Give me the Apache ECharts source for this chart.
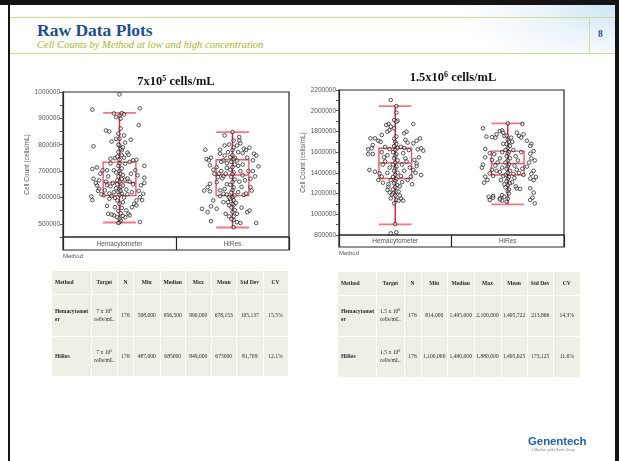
<!DOCTYPE html>
<html>
<head>
<meta charset="utf-8">
<title>Raw Data Plots</title>
<script src="https://cdn.jsdelivr.net/npm/echarts@6/dist/echarts.min.js"></script>
<style>
  html, body { margin: 0; padding: 0; background: #fff; }
  body { width: 619px; height: 461px; position: relative; overflow: hidden; font-family: "Liberation Serif", serif; }
  .blk { position: absolute; background: #141414; }
  .header { position: absolute; left: 10px; top: 5px; width: 605px; height: 48px;
    background: radial-gradient(ellipse 160px 70px at 100% 0%, #cde4f6 0%, rgba(220,236,248,0.6) 45%, rgba(255,255,255,0) 100%), #fff; }
  .hline { position: absolute; background: #d3dc8e; }
  .title { position: absolute; left: 37px; top: 20px; font: bold 17.5px "Liberation Serif", serif; color: #1f4f8d; white-space: nowrap; line-height: 20px; }
  .subtitle { position: absolute; left: 37px; top: 38.5px; font: italic 10.5px "Liberation Serif", serif; color: #a7b42e; white-space: nowrap; line-height: 12px; }
  .pageno { position: absolute; left: 598px; top: 29px; font: bold 9.5px "Liberation Serif", serif; color: #2a5189; }
  #chart { position: absolute; left: 0; top: 0; width: 619px; height: 461px; }
  table.stats { position: absolute; border-collapse: separate; border-spacing: 1px; table-layout: fixed;
    font: 5.6px "Liberation Serif", serif; color: #2a2a2a; }
  table.stats td { background: #eeefe5; text-align: center; vertical-align: middle; padding: 0 1px; line-height: 1.35; }
  table.stats td.first { text-align: left; font-weight: bold; word-break: break-all; padding-left: 3px; }
  table.stats tr.head td { font-weight: bold; }
  table.stats sup { font-size: 4px; vertical-align: 2px; line-height: 0; }
  .logo { position: absolute; left: 528px; top: 435px; font: bold 11.5px "Liberation Sans", Arial, sans-serif; color: #2263a9; letter-spacing: -0.1px; }
  .logo-sub { position: absolute; left: 531px; top: 448px; font: italic 3.6px "Liberation Serif", serif; color: #777; white-space: nowrap; }
</style>
</head>
<body>
<div class="header"></div>
<div class="hline" style="left:10px; top:17px; width:605px; height:1px;"></div>
<div class="hline" style="left:10px; top:53px; width:605px; height:1px;"></div>
<div class="hline" style="left:589px; top:17px; width:1px; height:36px;"></div>
<div class="title">Raw Data Plots</div>
<div class="subtitle">Cell Counts by Method at low and high concentration</div>
<div class="pageno">8</div>
<div class="blk" style="left:0; top:0; width:619px; height:5px;"></div>
<div class="blk" style="left:8px; top:0; width:2px; height:461px;"></div>
<div class="blk" style="left:615px; top:0; width:4px; height:461px;"></div>

<div id="chart"></div>
<div id="tables"></div>
<div class="logo">Genentech</div>
<div class="logo-sub">A Member of the Roche Group</div>

<script>
// ---------- data ----------
const categories = ['Hemacytometer', 'HiRes'];

// [horizontal jitter as a fraction of the category width, cell count]
const lowHema = [
  [0.00, 991000], [-0.24, 933000], [0.18, 938000],
  [-0.05, 919000], [0.02, 920000], [0.00, 910000], [-0.03, 905000], [0.01, 899000], [0.04, 915000],
  [-0.12, 854000], [-0.09, 850000], [0.17, 874000],
  [0.01, 861000], [-0.01, 842000], [0.04, 835000], [0.00, 823000], [-0.03, 822000], [0.10, 819000],
  [-0.07, 812000], [-0.23, 794000],
  [0.05, 808000], [0.00, 797000], [0.02, 779000], [-0.01, 772000], [0.07, 770000], [0.08, 762000],
  [-0.08, 747000], [-0.04, 749000], [0.00, 743000], [0.04, 751000], [-0.08, 729000],
  [0.12, 741000], [0.15, 743000], [0.09, 735000], [0.05, 728000],
  [-0.24, 708000], [-0.20, 714000], [0.22, 720000], [0.22, 675000], [0.22, 655000],
  [-0.15, 703000], [-0.11, 703000], [-0.05, 703000], [-0.17, 690000],
  [-0.23, 671000], [-0.18, 665000], [-0.20, 646000], [-0.18, 633000], [-0.25, 604000], [-0.24, 590000],
  [-0.11, 568000], [-0.11, 646000], [-0.13, 627000], [-0.14, 608000], [-0.09, 595000],
  [0.14, 703000], [0.16, 684000], [0.19, 646000], [0.21, 614000], [0.18, 601000], [0.15, 589000],
  [0.13, 576000], [0.11, 563000], [0.08, 538000], [0.09, 532000], [0.05, 525000], [0.15, 570000],
  [0.00, 506000], [-0.01, 503000], [0.01, 513000], [-0.02, 525000], [-0.05, 532000], [-0.07, 535000],
  [-0.10, 538000], [0.18, 507000], [0.06, 551000], [-0.04, 563000], [0.00, 576000], [0.03, 582000],
  [-0.02, 589000],
  [0.00, 700000], [0.01, 690000], [-0.01, 680000], [0.02, 670000], [0.00, 660000], [-0.02, 650000],
  [0.01, 640000], [0.00, 630000], [-0.01, 620000], [0.02, 615000], [0.00, 610000], [0.01, 625000],
  [-0.03, 635000], [0.03, 645000], [-0.02, 665000], [0.03, 685000], [-0.03, 695000], [0.02, 710000],
  [-0.01, 720000], [0.00, 730000],
  [0.05, 668000], [0.07, 672000], [0.09, 660000], [-0.06, 655000], [-0.08, 642000], [0.06, 630000],
  [-0.05, 620000], [0.07, 612000], [-0.07, 606000], [0.04, 600000], [-0.04, 598000],
  [0.10, 690000], [-0.10, 680000], [0.12, 650000], [-0.12, 660000], [0.11, 620000], [-0.09, 615000],
  [0.02, 560000], [-0.01, 548000], [0.01, 540000], [0.00, 520000], [0.03, 530000],
  [0.02, 760000], [-0.02, 755000], [0.01, 785000], [0.03, 790000], [-0.01, 800000],
  [-0.16, 612000], [-0.19, 625000], [0.17, 625000], [0.20, 590000], [-0.21, 655000]
];

const lowHiRes = [
  [0.00, 848000], [-0.07, 835000], [0.06, 829000], [0.06, 816000],
  [0.01, 816000], [-0.03, 801000], [0.04, 797000], [-0.07, 797000], [-0.11, 781000], [-0.24, 781000],
  [0.05, 772000], [0.09, 768000], [0.13, 751000], [0.10, 785000], [0.15, 789000],
  [-0.04, 772000], [-0.11, 766000], [-0.07, 759000], [-0.02, 753000], [0.02, 751000], [-0.08, 741000],
  [-0.19, 751000], [-0.23, 746000], [-0.21, 741000],
  [0.19, 766000], [0.21, 759000], [0.18, 741000], [0.23, 718000],
  [-0.20, 722000], [-0.17, 705000], [-0.14, 715000], [-0.16, 690000],
  [0.18, 700000], [0.20, 680000], [0.16, 671000],
  [-0.13, 677000], [-0.08, 680000], [-0.14, 658000], [-0.20, 652000], [-0.22, 639000],
  [0.16, 639000], [0.17, 626000],
  [-0.11, 627000], [-0.08, 614000], [-0.05, 611000], [-0.11, 605000],
  [-0.25, 626000], [-0.20, 623000], [-0.27, 557000], [-0.22, 544000], [-0.19, 566000], [-0.14, 557000],
  [-0.17, 589000],
  [0.15, 550000], [0.08, 561000], [0.04, 538000], [0.01, 528000],
  [-0.03, 528000], [-0.06, 538000], [0.04, 506000], [0.01, 487000],
  [0.21, 503000], [-0.19, 510000], [0.07, 503000], [0.13, 544000],
  [-0.08, 582000], [-0.04, 582000], [0.01, 570000],
  [0.00, 760000], [0.01, 745000], [-0.01, 735000], [0.02, 725000], [0.00, 715000], [-0.02, 705000],
  [0.01, 695000], [0.00, 688000], [-0.01, 678000], [0.02, 668000], [0.00, 658000], [-0.02, 648000],
  [0.01, 638000], [0.00, 628000], [-0.01, 618000], [0.02, 608000], [0.00, 600000], [-0.02, 595000],
  [0.01, 590000], [0.00, 575000], [-0.01, 562000], [0.02, 552000], [0.00, 545000], [0.01, 515000],
  [-0.01, 518000], [0.00, 780000], [0.01, 790000],
  [0.05, 720000], [-0.05, 712000], [0.07, 700000], [-0.06, 690000], [0.09, 684000], [-0.09, 672000],
  [0.06, 660000], [-0.05, 650000], [0.08, 640000], [-0.07, 632000], [0.05, 620000], [0.10, 610000],
  [0.12, 615000], [-0.03, 600000],
  [0.04, 740000], [-0.05, 730000], [0.09, 725000], [-0.10, 700000], [0.11, 665000], [-0.12, 690000],
  [0.03, 580000], [-0.03, 570000],
  [0.12, 780000], [0.07, 805000], [-0.10, 735000], [0.14, 700000]
];

const highHema = [
  [-0.04, 2103000], [0.01, 2045000], [0.01, 1981000], [-0.01, 1910000], [0.02, 1904000], [0.01, 1894000],
  [-0.06, 1872000], [-0.08, 1862000], [-0.04, 1846000], [-0.01, 1830000], [0.16, 1872000],
  [0.08, 1782000], [0.10, 1798000], [0.09, 1718000],
  [-0.07, 1798000], [-0.05, 1814000], [-0.12, 1766000],
  [-0.22, 1733000], [-0.18, 1733000], [-0.15, 1710000], [-0.13, 1700000],
  [0.22, 1733000], [0.19, 1710000], [0.16, 1685000], [0.11, 1692000],
  [-0.24, 1627000], [-0.21, 1637000], [-0.20, 1669000], [-0.24, 1582000], [-0.20, 1582000],
  [0.23, 1637000], [0.25, 1614000], [0.20, 1627000], [0.21, 1550000], [0.17, 1525000], [0.19, 1490000],
  [0.19, 1465000],
  [-0.23, 1428000], [-0.18, 1411000], [-0.14, 1395000], [-0.12, 1363000], [-0.15, 1331000], [-0.11, 1305000],
  [0.23, 1379000], [0.16, 1428000], [0.18, 1400000], [0.14, 1363000], [0.11, 1331000], [0.15, 1290000],
  [-0.02, 1202000], [-0.04, 1154000], [0.01, 1138000], [0.03, 1132000], [-0.01, 1106000], [0.07, 1132000],
  [0.05, 1154000],
  [-0.04, 816000], [0.01, 826000], [0.00, 906000],
  [-0.07, 1235000], [-0.06, 1266000],
  [0.00, 1700000], [0.01, 1680000], [-0.01, 1660000], [0.02, 1640000], [0.00, 1620000], [-0.02, 1600000],
  [0.01, 1580000], [0.00, 1560000], [-0.01, 1540000], [0.02, 1520000], [0.00, 1500000], [-0.02, 1480000],
  [0.01, 1460000], [0.00, 1440000], [-0.01, 1420000], [0.02, 1400000], [0.00, 1380000], [-0.02, 1360000],
  [0.01, 1340000], [0.00, 1320000], [-0.01, 1300000], [0.02, 1280000], [0.00, 1260000], [-0.02, 1240000],
  [0.01, 1220000], [0.00, 1180000], [0.01, 1750000], [-0.01, 1730000],
  [0.05, 1650000], [-0.05, 1630000], [0.07, 1590000], [-0.07, 1570000], [0.09, 1540000], [-0.09, 1510000],
  [0.06, 1480000], [-0.05, 1450000], [0.08, 1420000], [-0.07, 1400000], [0.05, 1370000], [-0.04, 1330000],
  [0.06, 1310000], [-0.06, 1290000], [0.04, 1270000],
  [0.12, 1620000], [-0.12, 1600000], [0.13, 1450000], [-0.11, 1480000], [0.10, 1510000], [-0.10, 1550000],
  [0.08, 1640000], [-0.09, 1650000],
  [0.03, 1220000], [-0.03, 1190000], [0.04, 1180000], [-0.05, 1210000]
];

const highHiRes = [
  [0.00, 1878000], [0.13, 1872000], [-0.22, 1830000],
  [-0.07, 1804000], [-0.05, 1810000], [-0.04, 1788000], [-0.03, 1757000], [-0.10, 1772000], [-0.11, 1740000],
  [0.08, 1788000], [0.10, 1757000], [0.14, 1772000], [0.12, 1740000],
  [-0.19, 1750000], [-0.14, 1745000],
  [0.17, 1710000], [0.21, 1680000], [0.20, 1660000],
  [-0.20, 1630000], [-0.16, 1590000], [-0.20, 1550000], [-0.14, 1525000],
  [0.23, 1610000], [0.20, 1585000], [0.21, 1540000], [0.24, 1520000], [0.19, 1500000],
  [-0.20, 1363000], [-0.18, 1331000], [-0.21, 1305000], [-0.16, 1395000], [-0.13, 1370000],
  [0.23, 1420000], [0.21, 1390000], [0.25, 1360000], [0.20, 1345000], [0.23, 1330000],
  [-0.17, 1170000], [-0.13, 1176000], [-0.16, 1138000],
  [-0.05, 1185000], [-0.07, 1154000], [-0.03, 1170000],
  [0.08, 1250000], [0.11, 1245000], [0.07, 1270000],
  [0.20, 1251000], [0.23, 1209000], [0.22, 1161000], [0.20, 1138000], [0.24, 1105000],
  [-0.01, 1122000], [0.00, 1150000], [-0.05, 1132000], [-0.07, 1144000], [-0.13, 1160000],
  [-0.23, 1450000], [-0.22, 1480000], [0.17, 1460000],
  [0.00, 1720000], [0.01, 1700000], [-0.01, 1680000], [0.02, 1660000], [0.00, 1640000], [-0.02, 1620000],
  [0.01, 1600000], [0.00, 1580000], [-0.01, 1560000], [0.02, 1540000], [0.00, 1520000], [-0.02, 1500000],
  [0.01, 1480000], [0.00, 1460000], [-0.01, 1440000], [0.02, 1420000], [0.00, 1400000], [-0.02, 1380000],
  [0.01, 1360000], [0.00, 1340000], [-0.01, 1320000], [0.02, 1300000], [0.00, 1280000], [-0.02, 1260000],
  [0.01, 1240000], [0.00, 1220000], [0.01, 1200000], [-0.01, 1760000],
  [0.05, 1620000], [-0.05, 1600000], [0.07, 1560000], [-0.07, 1540000], [0.09, 1520000], [-0.09, 1500000],
  [0.06, 1470000], [-0.05, 1450000], [0.08, 1430000], [-0.07, 1410000], [0.05, 1390000], [-0.04, 1370000],
  [0.06, 1350000], [-0.06, 1330000], [0.04, 1310000], [-0.03, 1290000],
  [0.12, 1600000], [-0.12, 1580000], [0.13, 1440000], [-0.11, 1470000], [0.10, 1400000], [-0.10, 1420000],
  [0.04, 1700000], [-0.04, 1680000], [0.14, 1380000], [-0.14, 1430000], [0.03, 1740000]
];

// box summaries per method: [lower whisker, Q1, median, Q3, upper whisker]
const lowBoxes = [
  [505000, 607000, 656500, 734000, 921000],
  [486000, 607000, 685000, 743000, 848000]
];
const highBoxes = [
  [903000, 1345000, 1495000, 1637000, 2045000],
  [1096000, 1380000, 1490000, 1610000, 1878000]
];

// axis ranges and labelled ticks
const lowAxis = { min: 450000, max: 1000000, step: 50000, labelStep: 100000, firstLabel: 500000 };
const highAxis = { min: 800000, max: 2200000, step: 100000, labelStep: 200000, firstLabel: 800000 };

// summary tables
const tableHeader = ['Method', 'Target', 'N', 'Min', 'Median', 'Max', 'Mean', 'Std Dev', 'CV'];
const lowRows = [
  ['Hemacytometer', '7 x 10<sup>5</sup><br>cells/mL.', '176', '508,000', '656,500', '990,000', '678,153', '105,137', '15.5%'],
  ['HiRes', '7 x 10<sup>5</sup><br>cells/mL.', '176', '487,000', '685000', '849,000', '675000', '81,709', '12.1%']
];
const highRows = [
  ['Hemacytometer', '1.5 x 10<sup>6</sup><br>cells/mL.', '176', '814,000', '1,495,000', '2,100,000', '1,495,722', '213,866', '14.3%'],
  ['HiRes', '1.5 x 10<sup>6</sup><br>cells/mL.', '176', '1,100,000', '1,490,000', '1,880,000', '1,495,625', '173,125', '11.6%']
];

// ---------- tables ----------
function buildTable(rows, left, top, colWidths, rowHeights) {
  const t = document.createElement('table');
  t.className = 'stats';
  t.style.left = left + 'px';
  t.style.top = top + 'px';
  const cg = document.createElement('colgroup');
  colWidths.forEach(w => { const c = document.createElement('col'); c.style.width = w + 'px'; cg.appendChild(c); });
  t.appendChild(cg);
  [tableHeader].concat(rows).forEach((r, ri) => {
    const tr = document.createElement('tr');
    if (ri === 0) tr.className = 'head';
    tr.style.height = rowHeights[ri] + 'px';
    r.forEach((cell, ci) => {
      const td = document.createElement('td');
      if (ci === 0) td.className = 'first';
      td.innerHTML = cell;
      tr.appendChild(td);
    });
    t.appendChild(tr);
  });
  document.getElementById('tables').appendChild(t);
}
buildTable(lowRows, 51, 270, [38.5, 25.5, 15, 25.5, 24.5, 24.5, 24.5, 25.5, 24], [23, 41, 39]);
buildTable(highRows, 337, 271, [38, 26.5, 16, 25.5, 25.5, 26, 25, 25.5, 25.5], [23, 40, 39.5]);

// ---------- chart ----------
const BOX_HALF = 0.145;

function toPoints(list, idx) {
  return list.map(p => [idx + 0.5 + p[0], p[1]]);
}

function renderBox(params, api) {
  const cx = api.value(0) + 0.5;
  const lo = api.coord([cx, api.value(1)]);
  const q1 = api.coord([cx, api.value(2)]);
  const md = api.coord([cx, api.value(3)]);
  const q3 = api.coord([cx, api.value(4)]);
  const hi = api.coord([cx, api.value(5)]);
  const hw = api.size([BOX_HALF, 0])[0];
  const boxStroke = { stroke: '#ef5566', lineWidth: 1.4, fill: null };
  const capStroke = { stroke: '#f27784', lineWidth: 1.8 };
  return {
    type: 'group',
    children: [
      { type: 'rect', shape: { x: q3[0] - hw, y: q3[1], width: hw * 2, height: q1[1] - q3[1] }, style: boxStroke },
      { type: 'line', shape: { x1: md[0] - hw, y1: md[1], x2: md[0] + hw, y2: md[1] }, style: { stroke: '#ef5566', lineWidth: 1.4 } },
      { type: 'line', shape: { x1: lo[0], y1: lo[1], x2: hi[0], y2: hi[1] }, style: { stroke: '#e3243c', lineWidth: 1.5 } },
      { type: 'line', shape: { x1: hi[0] - hw, y1: hi[1], x2: hi[0] + hw, y2: hi[1] }, style: capStroke },
      { type: 'line', shape: { x1: lo[0] - hw, y1: lo[1], x2: lo[0] + hw, y2: lo[1] }, style: capStroke }
    ]
  };
}

const axisFont = '"Liberation Sans", Arial, sans-serif';
const frameColor = '#262626';

function valueAxis(gridIndex, ax, gap) {
  return {
    gridIndex: gridIndex, type: 'value', min: ax.min, max: ax.max, interval: ax.step,
    axisLine: { show: true, lineStyle: { color: frameColor, width: 1.2 } },
    axisTick: { show: true, length: 3, lineStyle: { color: '#555' } },
    axisLabel: {
      fontSize: 6.5, color: '#555', margin: 3, fontFamily: axisFont,
      formatter: v => (v >= ax.firstLabel && (v - ax.firstLabel) % ax.labelStep === 0) ? String(v) : ''
    },
    splitLine: { show: false },
    name: 'Cell Count (cells/mL)', nameLocation: 'middle', nameGap: gap,
    nameTextStyle: { fontSize: 6.5, color: '#555', fontFamily: axisFont }
  };
}

function categoryAxis(gridIndex) {
  return {
    gridIndex: gridIndex, type: 'category', data: categories,
    axisLine: { show: false }, axisTick: { show: false },
    splitLine: { show: true, lineStyle: { color: frameColor, width: 1.2 } },
    axisLabel: { margin: -9.5, fontSize: 6.5, color: '#555', fontFamily: axisFont }
  };
}

const pointStyle = {
  symbol: 'circle', symbolSize: 3.6,
  itemStyle: { color: 'rgba(255,255,255,0.55)', borderColor: '#151515', borderWidth: 0.9 }
};

const chart = echarts.init(document.getElementById('chart'), null, { renderer: 'canvas' });
chart.setOption({
  backgroundColor: 'transparent',
  animation: false,
  grid: [
    { left: 63, top: 92, width: 226, height: 145, show: true, borderColor: frameColor, borderWidth: 1.2 },
    { left: 63, top: 237, width: 226, height: 13, show: true, borderColor: frameColor, borderWidth: 1.2 },
    { left: 339, top: 90, width: 225, height: 145, show: true, borderColor: frameColor, borderWidth: 1.2 },
    { left: 339, top: 235, width: 225, height: 12, show: true, borderColor: frameColor, borderWidth: 1.2 }
  ],
  xAxis: [
    { gridIndex: 0, type: 'value', min: 0, max: 2, show: false },
    categoryAxis(1),
    { gridIndex: 2, type: 'value', min: 0, max: 2, show: false },
    categoryAxis(3)
  ],
  yAxis: [
    valueAxis(0, lowAxis, 30),
    { gridIndex: 1, type: 'value', show: false },
    valueAxis(2, highAxis, 32),
    { gridIndex: 3, type: 'value', show: false }
  ],
  series: [
    { type: 'custom', xAxisIndex: 0, yAxisIndex: 0, renderItem: renderBox, z: 2, silent: true,
      data: lowBoxes.map((b, i) => [i].concat(b)) },
    Object.assign({ type: 'scatter', xAxisIndex: 0, yAxisIndex: 0, z: 3, silent: true,
      data: toPoints(lowHema, 0).concat(toPoints(lowHiRes, 1)) }, pointStyle),
    { type: 'custom', xAxisIndex: 2, yAxisIndex: 2, renderItem: renderBox, z: 2, silent: true,
      data: highBoxes.map((b, i) => [i].concat(b)) },
    Object.assign({ type: 'scatter', xAxisIndex: 2, yAxisIndex: 2, z: 3, silent: true,
      data: toPoints(highHema, 0).concat(toPoints(highHiRes, 1)) }, pointStyle)
  ],
  graphic: [
    { type: 'text', x: 176, y: 82, style: {
        text: '{a|7x10}{s|5}{a| cells/mL}', align: 'center', verticalAlign: 'middle',
        rich: { a: { fontSize: 12.5, fontWeight: 'bold', fontFamily: '"Liberation Serif", serif', fill: '#111' },
                s: { fontSize: 8, fontWeight: 'bold', fontFamily: '"Liberation Serif", serif', fill: '#111', padding: [0, 0, 7, 0] } } } },
    { type: 'text', x: 453, y: 78, style: {
        text: '{a|1.5x10}{s|6}{a| cells/mL}', align: 'center', verticalAlign: 'middle',
        rich: { a: { fontSize: 12.5, fontWeight: 'bold', fontFamily: '"Liberation Serif", serif', fill: '#111' },
                s: { fontSize: 8, fontWeight: 'bold', fontFamily: '"Liberation Serif", serif', fill: '#111', padding: [0, 0, 7, 0] } } } },
    { type: 'text', x: 63, y: 256, style: { text: 'Method', fontSize: 6, fontFamily: axisFont, fill: '#555', verticalAlign: 'middle' } },
    { type: 'text', x: 339, y: 253, style: { text: 'Method', fontSize: 6, fontFamily: axisFont, fill: '#555', verticalAlign: 'middle' } }
  ]
});
</script>
</body>
</html>
